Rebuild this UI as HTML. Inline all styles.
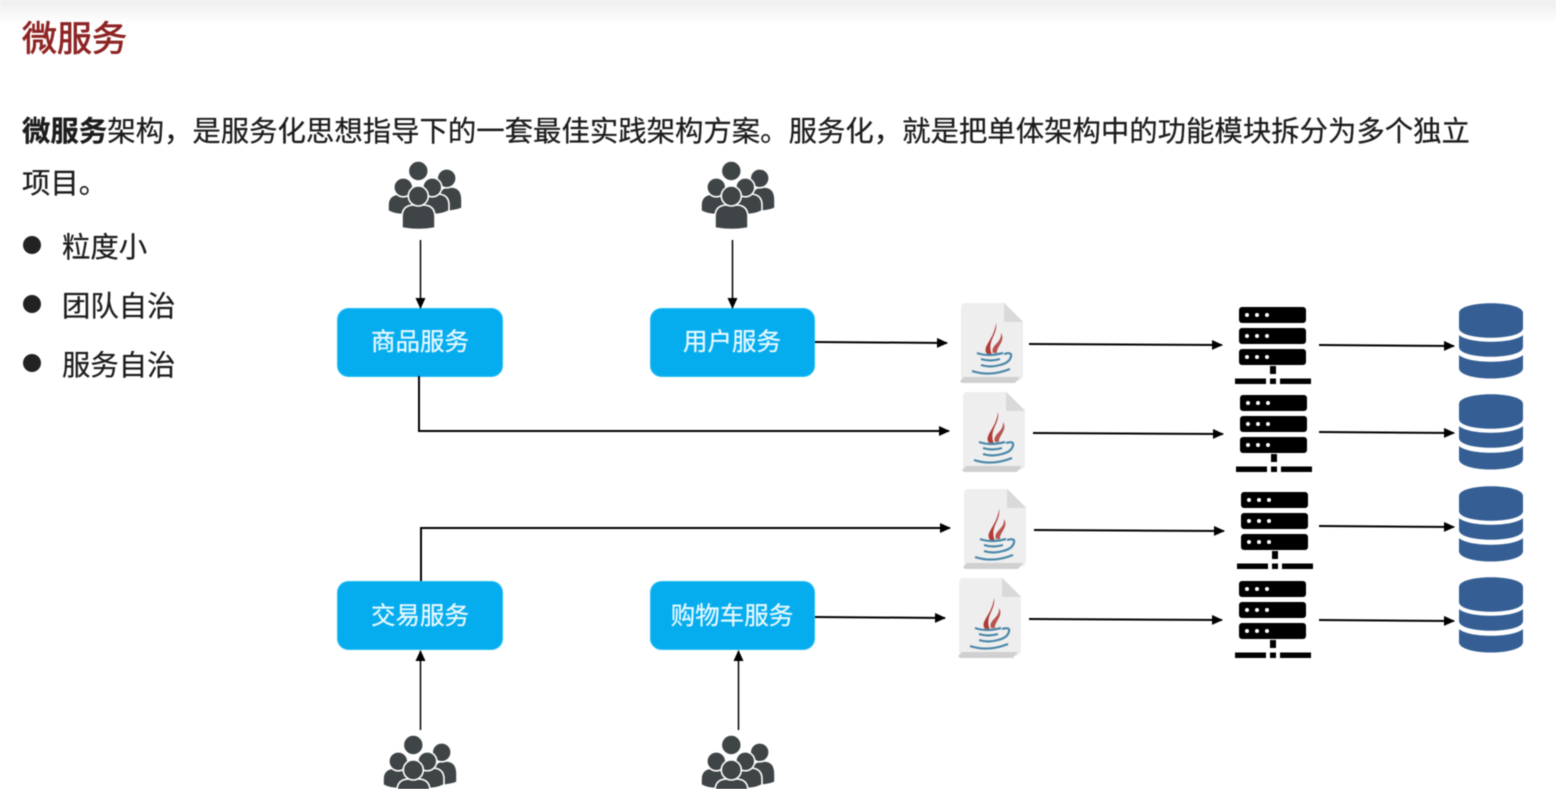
<!DOCTYPE html>
<html lang="zh">
<head>
<meta charset="utf-8">
<style>
html,body{margin:0;padding:0;background:#fff;width:1556px;height:789px;overflow:hidden}
svg{display:block;filter:blur(0.45px)}
text{font-family:"Liberation Sans","Noto Sans CJK SC",sans-serif}
.t{font-size:28.4px;fill:#1c1c1c;stroke:#1c1c1c;stroke-width:0.25px}
.b{font-size:24.5px;fill:#e8f8ff;stroke:#e8f8ff;stroke-width:0.3px;text-anchor:middle}
.l{stroke:#000;stroke-width:2;fill:none}
</style>
</head>
<body>
<svg width="1556" height="789" viewBox="0 0 1556 789" xmlns="http://www.w3.org/2000/svg">
<defs>
<linearGradient id="top" x1="0" y1="0" x2="0" y2="1"><stop offset="0" stop-color="#eeeeee"/><stop offset="1" stop-color="#ffffff"/></linearGradient>
<marker id="a" markerWidth="12" markerHeight="10" refX="10" refY="5" orient="auto" markerUnits="userSpaceOnUse"><path d="M0 0L11 5L0 10Z" fill="#000"/></marker>
<symbol id="people" width="80" height="75" viewBox="0 0 80 75" overflow="visible">
<g fill="#3f4446" stroke="#fff" stroke-width="1.6">
<path d="M50 50 V34 Q50 25 62 25 Q73 25 73 38 V46 Q68 49 50 50Z"/>
<circle cx="57.700" cy="16.300" r="9.500"/>
<circle cx="29.300" cy="9" r="10"/>
<path d="M-1 49 V43 Q-1 32 12 32 H18 Q27 32 27 43 V51 Q10 55 -1 49Z"/>
<path d="M32 43 Q32 32 42 32 H48 Q60 32 60 43 V49 Q48 55 32 51Z"/>
<circle cx="14.300" cy="25.300" r="9.500"/>
<circle cx="43.300" cy="25.300" r="9.500"/>
<path d="M13 66 V55 Q13 43 25 43 H34 Q46 43 46 55 V66 Q30 69 13 66Z"/>
<circle cx="29.300" cy="34" r="10"/>
</g>
</symbol>
<symbol id="java" width="66" height="82" viewBox="0 0 66 82" overflow="visible">
<path d="M5 0H45L63 18V72Q63 78 56 78H5Q1 78 1 72V6Q1 0 5 0Z" fill="#eeeeee"/>
<path d="M0 78L4 74H60L55 80H2Z" fill="#d0d0d0"/>
<path d="M44 0L63 19H46Q44 19 44 17Z" fill="#d9d9d9"/>
<path d="M28 52C20 44 34 38 36 20C38 32 26 38 32 52Z" fill="#b03a36"/>
<path d="M33 50C30 42 42 40 41 30C46 38 36 44 37 50Z" fill="#b9534f"/>
<g fill="none" stroke="#4a87a8" stroke-width="2.200">
<path d="M17 50Q28 54 43 50"/>
<path d="M21 56Q30 59 40 56"/>
<path d="M21 62Q30 65 40 62"/>
<path d="M12 68Q30 74 50 66"/>
<path d="M44 51Q54 48 50 56Q48 60 40 62"/>
</g>
</symbol>
<symbol id="server" width="78" height="80" viewBox="0 0 78 80" overflow="visible">
<g fill="#000">
<rect x="4" y="1" width="67" height="16" rx="3"/>
<rect x="4" y="22" width="67" height="16" rx="3"/>
<rect x="4" y="43" width="67" height="16" rx="3"/>
<rect x="35" y="60" width="6" height="8"/>
<rect x="0" y="72.500" width="31" height="5.500"/>
<rect x="35" y="72.500" width="6" height="5.500"/>
<rect x="45" y="72.500" width="31" height="5.500"/>
</g>
<g fill="#fff">
<circle cx="12" cy="9" r="2"/><circle cx="22" cy="9" r="2"/><circle cx="32" cy="9" r="2"/>
<circle cx="12" cy="30" r="2"/><circle cx="22" cy="30" r="2"/><circle cx="32" cy="30" r="2"/>
<circle cx="12" cy="51" r="2"/><circle cx="22" cy="51" r="2"/><circle cx="32" cy="51" r="2"/>
</g>
</symbol>
<symbol id="db" width="66" height="78" viewBox="0 0 66 78" overflow="visible">
<path d="M0 10C0 -3 64 -3 64 10V25C64 38 0 38 0 25Z" fill="#355f94"/>
<path d="M0 32C10 41 54 41 64 32V44C64 57 0 57 0 44Z" fill="#355f94"/>
<path d="M0 52C10 61 54 61 64 52V65C64 79 0 79 0 65Z" fill="#355f94"/>
</symbol>
</defs>

<rect width="1556" height="24" fill="url(#top)"/>
<text x="22" y="51" font-size="35" fill="#8e2424" stroke="#8e2424" stroke-width="0.8">微服务</text>
<text x="22" y="141" class="t"><tspan font-weight="700">微服务</tspan>架构，是服务化思想指导下的一套最佳实践架构方案。服务化，就是把单体架构中的功能模块拆分为多个独立</text>
<text x="22" y="193" class="t">项目。</text>
<circle cx="32" cy="245" r="9" fill="#222"/>
<circle cx="32" cy="304" r="9" fill="#222"/>
<circle cx="32" cy="363" r="9" fill="#222"/>
<text x="62" y="257" class="t">粒度小</text>
<text x="62" y="316" class="t">团队自治</text>
<text x="62" y="375" class="t">服务自治</text>

<use href="#people" x="389" y="162"/>
<use href="#people" x="702" y="162"/>
<use href="#people" x="384" y="736"/>
<use href="#people" x="702" y="736"/>

<g fill="#05adef" stroke="#27bdf4" stroke-width="1">
<rect x="337.500" y="308.500" width="165" height="68" rx="11"/>
<rect x="650.500" y="308.500" width="164" height="68" rx="11"/>
<rect x="337.500" y="581.500" width="165" height="68" rx="11"/>
<rect x="650.500" y="581.500" width="164" height="68" rx="11"/>
</g>
<text x="420" y="350" class="b">商品服务</text>
<text x="732" y="350" class="b">用户服务</text>
<text x="420" y="624" class="b">交易服务</text>
<text x="732" y="624" class="b">购物车服务</text>

<g>
<path class="l" marker-end="url(#a)" d="M420.500 240V308" style="stroke-width:1.500"/>
<path class="l" marker-end="url(#a)" d="M732.500 240V308" style="stroke-width:1.500"/>
<path class="l" marker-end="url(#a)" d="M815 342L947 343"/>
<path class="l" marker-end="url(#a)" d="M1029 344L1222 345"/>
<path class="l" marker-end="url(#a)" d="M1319 345L1454 346"/>
<path class="l" marker-end="url(#a)" d="M419 376V431H949"/>
<path class="l" marker-end="url(#a)" d="M1033 433L1223 434"/>
<path class="l" marker-end="url(#a)" d="M1319 432L1454 433"/>
<path class="l" marker-end="url(#a)" d="M421 581V528H950"/>
<path class="l" marker-end="url(#a)" d="M1034 530L1224 531"/>
<path class="l" marker-end="url(#a)" d="M1319 526L1454 527"/>
<path class="l" marker-end="url(#a)" d="M815 617L945 618"/>
<path class="l" marker-end="url(#a)" d="M1029 619L1222 620"/>
<path class="l" marker-end="url(#a)" d="M1319 620L1454 621"/>
<path class="l" marker-end="url(#a)" d="M420.500 730V651" style="stroke-width:1.500"/>
<path class="l" marker-end="url(#a)" d="M738.500 730V651" style="stroke-width:1.500"/>
</g>

<use href="#java" x="960" y="303"/>
<use href="#java" x="962" y="392"/>
<use href="#java" x="963" y="489"/>
<use href="#java" x="958" y="578"/>

<use href="#server" x="1235" y="306"/>
<use href="#server" x="1236" y="394"/>
<use href="#server" x="1237" y="491"/>
<use href="#server" x="1235" y="580"/>

<use href="#db" x="1459" y="303"/>
<use href="#db" x="1459" y="394"/>
<use href="#db" x="1459" y="486"/>
<use href="#db" x="1459" y="577"/>
</svg>
</body>
</html>
